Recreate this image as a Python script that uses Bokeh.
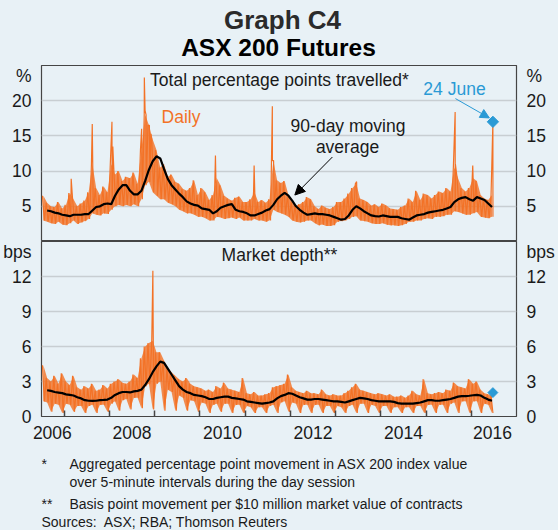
import numpy as np
import pandas as pd
from bokeh.plotting import figure
from bokeh.layouts import column
from bokeh.models import (Range1d, LinearAxis, FixedTicker, Label, Arrow,
                          NormalHead, CustomJSTickFormatter)
from bokeh.embed import file_html
from bokeh.resources import INLINE

# ---------------- data ----------------
months = pd.period_range("2006-07", "2016-06", freq="M")

# Total percentage points travelled: monthly high / low of the daily series (%)
total_hi = [6.5, 5.5, 5.0, 4.9, 5.6, 4.7,
            5.2, 6.9, 6.0, 5.0, 5.4, 5.8, 7.0, 11.0, 7.6, 6.6, 7.8, 7.0,
            11.0, 9.5, 10.0, 8.6, 9.2, 9.0, 9.8, 8.2, 13.0, 18.0, 16.5, 14.5,
            13.0, 10.5, 11.0, 9.2, 9.5, 8.5, 8.2, 7.5, 7.2, 7.6, 8.7, 6.6,
            7.6, 7.0, 5.9, 6.6, 9.0, 8.0, 6.5, 6.1, 5.8, 6.2, 6.4, 5.6,
            5.6, 6.0, 7.0, 5.6, 5.9, 5.5, 6.0, 11.5, 8.7, 8.3, 8.6, 6.6,
            5.6, 5.1, 5.3, 5.6, 6.3, 6.0, 5.0, 4.6, 5.1, 4.8, 4.6, 4.9,
            5.6, 5.6, 6.1, 6.8, 7.6, 8.2, 6.1, 5.9, 5.6, 5.1, 5.3, 4.9,
            5.4, 5.1, 4.7, 4.6, 4.5, 4.9, 5.1, 6.1, 5.6, 7.2, 5.9, 6.8,
            6.6, 6.1, 6.6, 7.1, 6.9, 7.6, 7.1, 10.5, 9.0, 7.6, 7.1, 7.6,
            9.0, 8.6, 6.6, 6.1, 5.9, 6.6]
total_lo = [3.0, 2.8, 2.6, 2.5, 2.8, 2.4,
            2.3, 2.6, 3.0, 2.5, 2.7, 2.9, 3.2, 4.0, 3.8, 3.7, 4.0, 3.9,
            4.5, 5.0, 5.2, 5.0, 5.2, 5.0, 5.3, 5.0, 6.0, 8.0, 8.5, 7.0,
            6.5, 6.0, 6.0, 5.5, 5.3, 5.0, 4.5, 4.3, 4.0, 4.0, 3.8, 3.5,
            3.5, 3.3, 3.0, 3.0, 3.5, 3.4, 3.2, 3.3, 3.4, 3.2, 3.4, 3.0,
            3.0, 3.0, 3.2, 3.0, 3.0, 2.8, 3.0, 4.5, 4.2, 4.0, 3.8, 3.5,
            3.0, 2.8, 2.7, 2.8, 3.0, 3.0, 2.6, 2.3, 2.4, 2.2, 2.2, 2.3,
            2.8, 2.9, 3.0, 3.2, 3.5, 3.6, 3.0, 2.9, 2.8, 2.6, 2.5, 2.5,
            2.6, 2.4, 2.3, 2.3, 2.2, 2.3, 2.5, 2.8, 2.8, 3.0, 3.0, 3.2,
            3.3, 3.2, 3.5, 3.5, 3.6, 3.8, 3.8, 4.3, 4.2, 4.0, 3.8, 3.8,
            4.0, 4.2, 3.5, 3.4, 3.3, 3.5]
total_ma = [np.nan, 4.4, 4.3, 4.1, 4.0, 3.8,
            3.7, 3.6, 3.8, 3.8, 3.8, 3.9, 3.9, 4.4, 4.9, 5.0, 5.3, 5.4,
            5.3, 6.5, 7.4, 8.0, 8.0, 7.2, 6.7, 6.7, 7.2, 8.6, 10.2, 11.4,
            12.1, 11.8, 10.3, 8.9, 8.0, 7.4, 6.8, 6.3, 5.7, 5.4, 5.2, 5.1,
            4.7, 4.6, 4.5, 4.0, 4.3, 4.8, 5.0, 5.2, 5.3, 4.5, 4.3, 4.2,
            4.0, 3.7, 3.7, 3.9, 4.1, 4.4, 4.6, 5.2, 6.0, 6.5, 6.9, 6.5,
            5.8, 5.0, 4.5, 4.1, 3.8, 3.9, 4.0, 3.9, 3.9, 3.8, 3.7, 3.5,
            3.3, 3.1, 3.2, 3.7, 4.5, 5.0, 4.7, 4.3, 4.0, 3.7, 3.6, 3.55,
            3.7, 3.6, 3.5, 3.5, 3.5, 3.3, 3.2, 3.1, 3.4, 3.7, 3.8, 3.9,
            4.1, 4.2, 4.3, 4.4, 4.5, 4.7, 4.9, 5.6, 6.0, 6.2, 6.3, 6.0,
            5.8, 6.3, 6.1, 5.9, 5.4, 4.9]
total_spikes = [("2007-02-27", 8.9), ("2007-08-16", 16.7), ("2008-01-22", 17.0),
                ("2008-01-29", 13.5), ("2008-09-18", 16.0), ("2008-10-10", 23.3),
                ("2008-10-16", 18.6), ("2008-10-24", 18.0), ("2008-11-20", 16.5),
                ("2008-12-02", 15.3), ("2009-01-21", 11.0), ("2010-05-07", 12.2),
                ("2011-03-15", 10.8), ("2011-08-09", 19.2), ("2011-08-19", 11.5),
                ("2013-06-20", 8.5), ("2015-08-24", 18.4), ("2015-08-26", 11.0),
                ("2016-01-13", 10.8), ("2016-06-24", 17.0)]

# Market depth: monthly high / low of the daily series (bps)
depth_hi = [4.4, 3.3, 3.0, 3.5, 2.8, 3.7,
            3.0, 2.7, 3.5, 2.5, 2.3, 2.6, 2.4, 2.8, 2.2, 2.3, 2.7, 2.4,
            2.8, 3.0, 3.2, 2.9, 2.8, 3.0, 3.6, 3.3, 5.0, 6.0, 6.3, 6.5,
            5.5, 5.5, 4.8, 4.2, 3.8, 3.5, 3.2, 3.0, 3.3, 2.8, 2.6, 2.5,
            2.4, 2.2, 2.3, 2.1, 2.6, 2.4, 2.9, 2.4, 2.3, 2.2, 2.1, 3.3,
            2.0, 1.9, 2.1, 1.8, 1.8, 1.9, 2.0, 2.5, 2.6, 2.7, 2.8, 3.6,
            2.5, 2.2, 2.1, 2.0, 2.2, 2.0, 2.0, 1.9, 2.3, 1.9, 1.8, 1.9,
            1.8, 1.8, 2.0, 2.2, 2.5, 2.8, 2.3, 2.2, 2.1, 2.0, 1.9, 2.0,
            1.9, 1.8, 1.9, 1.7, 1.7, 1.8, 1.6, 1.8, 2.2, 1.9, 1.8, 3.2,
            2.0, 1.9, 2.0, 2.1, 2.0, 2.3, 2.2, 2.9, 2.6, 2.5, 2.4, 3.2,
            2.8, 3.0, 2.3, 2.0, 1.9, 1.8]
depth_lo = [1.3, 1.2, 0.4, 1.1, 1.0, 0.3,
            1.1, 1.0, 0.4, 0.9, 0.9, 0.3, 0.9, 1.0, 0.3, 1.0, 1.0, 0.4,
            1.1, 1.3, 0.5, 1.4, 1.5, 0.6, 1.6, 1.6, 0.7, 2.6, 2.8, 0.6,
            2.8, 3.0, 0.5, 2.3, 2.1, 0.5, 1.8, 1.6, 0.5, 1.4, 1.3, 0.4,
            1.2, 1.1, 0.3, 1.0, 1.1, 0.4, 1.1, 1.1, 0.3, 1.0, 1.0, 0.3,
            0.9, 0.8, 0.3, 0.8, 0.8, 0.3, 0.9, 1.0, 0.3, 1.2, 1.3, 0.4,
            1.2, 1.1, 0.3, 1.0, 1.0, 0.3, 1.0, 1.0, 0.3, 0.9, 0.9, 0.3,
            0.9, 0.8, 0.3, 0.9, 1.0, 0.3, 1.1, 1.1, 0.3, 1.0, 0.9, 0.3,
            0.9, 0.9, 0.3, 0.8, 0.8, 0.3, 0.8, 0.8, 0.3, 0.9, 0.9, 0.3,
            1.0, 1.0, 0.3, 1.0, 1.0, 0.3, 1.1, 1.2, 0.3, 1.3, 1.3, 0.3,
            1.3, 1.3, 0.3, 1.1, 1.0, 0.3]
depth_ma = [np.nan, 2.25, 2.2, 2.1, 2.05, 2.0,
            1.9, 1.85, 1.8, 1.65, 1.55, 1.4, 1.35, 1.34, 1.35, 1.4, 1.42, 1.45,
            1.6, 1.85, 2.0, 2.1, 2.1, 2.06, 2.15, 2.2, 2.3, 2.7, 3.2, 3.8,
            4.3, 4.7, 4.6, 4.1, 3.6, 3.1, 2.6, 2.3, 2.1, 2.0, 1.85, 1.8,
            1.75, 1.65, 1.5, 1.5, 1.6, 1.65, 1.7, 1.7, 1.6, 1.55, 1.5, 1.45,
            1.3, 1.25, 1.2, 1.15, 1.1, 1.15, 1.2, 1.3, 1.55, 1.75, 1.85, 2.0,
            1.95, 1.8, 1.65, 1.55, 1.45, 1.45, 1.5, 1.5, 1.45, 1.4, 1.35, 1.3,
            1.3, 1.25, 1.2, 1.3, 1.4, 1.5, 1.6, 1.55, 1.5, 1.4, 1.35, 1.3,
            1.3, 1.3, 1.3, 1.25, 1.15, 1.1, 1.1, 1.1, 1.1, 1.15, 1.2, 1.3,
            1.4, 1.4, 1.35, 1.35, 1.4, 1.45, 1.5, 1.6, 1.7, 1.75, 1.75, 1.78,
            1.82, 1.86, 1.8, 1.6, 1.45, 1.35]
depth_spikes = [("2008-12-18", 12.5)]

june24 = "2016-06-24"
june24_total = 17.0
june24_depth = 2.05

year_bounds = list(range(2007, 2017))
year_label_pos = [2006.74, 2008.5, 2010.5, 2012.5, 2014.5, 2016.47]
total_ticks = [5, 10, 15, 20]
depth_ticks = [0, 3, 6, 9, 12]
UNIT_POS_TOTAL = 23.6   # where the "%" unit sits on the axis
UNIT_POS_DEPTH = 14.37  # where the "bps" unit sits on the axis

# ---------------- helpers ----------------
def decimal_year(s):
    d = pd.Timestamp(s)
    a = pd.Timestamp(d.year, 1, 1)
    b = pd.Timestamp(d.year + 1, 1, 1)
    return d.year + (d - a) / (b - a)

mx = np.array([p.year + (p.month - 1) / 12 for p in months])

def daily(hi, lo, spikes):
    xs = np.concatenate([mx + 0.25 / 12, mx + 0.75 / 12,
                         [decimal_year(d) for d, _ in spikes]])
    ys = np.concatenate([hi, lo, [v for _, v in spikes]])
    order = np.argsort(xs, kind="stable")
    return xs[order], ys[order]

BG = "#E8F1F6"
ORANGE = "#F37226"
BLUE = "#2A9AD5"
TXT = "#1a1a1a"
GRID = "#C8CED2"
OUTLINE = "#454545"
FONT = "Liberation Sans"
L_BORDER, R_BORDER, FRAME_W = 41, 42, 475

def base_fig(y0, y1, fh, bot_b, xloc):
    p = figure(frame_width=FRAME_W, frame_height=fh,
               x_range=Range1d(2006.5, 2017.0), y_range=Range1d(y0, y1),
               min_border_left=L_BORDER, min_border_right=R_BORDER,
               min_border_top=0, min_border_bottom=bot_b,
               x_axis_location=xloc, y_axis_location="left",
               output_backend="svg", toolbar_location=None)
    p.background_fill_color = BG
    p.border_fill_color = BG
    p.outline_line_color = OUTLINE
    p.outline_line_width = 1.2
    p.xgrid.visible = False
    p.ygrid.grid_line_color = GRID
    p.ygrid.grid_line_width = 1.3
    return p

def text_fig(h):
    p = figure(frame_width=FRAME_W, frame_height=h, x_range=Range1d(0, 1), y_range=Range1d(0, 1),
               min_border_left=L_BORDER, min_border_right=R_BORDER,
               min_border_top=0, min_border_bottom=0,
               x_axis_location=None, y_axis_location=None,
               output_backend="svg", toolbar_location=None)
    p.background_fill_color = BG
    p.border_fill_color = BG
    p.outline_line_color = None
    p.xgrid.grid_line_color = None
    p.ygrid.grid_line_color = None
    return p

def style_y(ax, ticks, unit_pos, unit):
    ax.ticker = FixedTicker(ticks=ticks + [unit_pos])
    ax.formatter = CustomJSTickFormatter(
        args=dict(u=unit, lim=unit_pos - 0.5),
        code="return tick > lim ? u : tick.toFixed(0);")
    ax.major_tick_line_color = None
    ax.minor_tick_line_color = None
    ax.axis_line_color = None
    ax.major_label_text_font = FONT
    ax.major_label_text_font_size = "17.5px"
    ax.major_label_text_color = TXT
    ax.major_label_standoff = 4

def lab(p, x, y, text, size="17.5px", color=TXT, align="center", style="normal"):
    # x given in page pixels; converted to frame-relative screen units
    p.add_layout(Label(x=x - L_BORDER, y=y, x_units="screen", y_units="screen", text=text,
                       text_align=align, text_baseline="middle",
                       text_font=FONT, text_font_size=size,
                       text_color=color, text_font_style=style))

# ---------------- header ----------------
head = text_fig(65)
lab(head, 282, 46, "Graph C4", size="26px", color="#2b2b2b", style="bold")
lab(head, 278, 18, "ASX 200 Futures", size="24.5px", color="black", style="bold")

# ---------------- top panel ----------------
top = base_fig(0, 25, 176, 0, None)
style_y(top.yaxis[0], total_ticks, UNIT_POS_TOTAL, "%")
ra = LinearAxis()
style_y(ra, total_ticks, UNIT_POS_TOTAL, "%")
top.add_layout(ra, "right")
top.ygrid.ticker = FixedTicker(ticks=[5, 10, 15, 20])

top.varea(x=mx + 0.5 / 12, y1=total_lo, y2=total_hi, fill_color=ORANGE, fill_alpha=0.8)
tx, ty = daily(total_hi, total_lo, total_spikes)
top.line(tx, ty, line_color=ORANGE, line_width=1.2)
top.line(mx + 0.5 / 12, total_ma, line_color="black", line_width=2.2)
top.scatter([decimal_year(june24)], [june24_total], marker="square", size=8,
            angle=np.pi / 4, fill_color=BLUE, line_color=BLUE)

top.add_layout(Arrow(end=NormalHead(size=9, fill_color=BLUE, line_color=BLUE),
                     x_start=2015.65, y_start=20.3, x_end=2016.40, y_end=17.55,
                     line_color=BLUE, line_width=1))
top.add_layout(Arrow(end=NormalHead(size=10, fill_color="black", line_color="black"),
                     x_start=2012.93, y_start=12.0, x_end=2012.10, y_end=6.6,
                     line_color="black", line_width=1))

lab(top, 279, 162, "Total percentage points travelled*")
lab(top, 180.5, 124.3, "Daily", color=ORANGE)
lab(top, 347.5, 116, "90-day moving")
lab(top, 347, 95, "average")
lab(top, 454, 153, "24 June", color=BLUE)

# ---------------- bottom panel ----------------
bot = base_fig(0, 15, 175, 30, "below")
style_y(bot.yaxis[0], depth_ticks, UNIT_POS_DEPTH, "bps")
rb = LinearAxis()
style_y(rb, depth_ticks, UNIT_POS_DEPTH, "bps")
bot.add_layout(rb, "right")
bot.ygrid.ticker = FixedTicker(ticks=[3, 6, 9, 12])

xa = bot.xaxis[0]
xa.ticker = FixedTicker(ticks=year_label_pos, minor_ticks=year_bounds)
xa.formatter = CustomJSTickFormatter(code="return Math.floor(tick).toFixed(0);")
xa.major_tick_line_color = None
xa.major_tick_in = 0
xa.major_tick_out = 0
xa.minor_tick_in = 6
xa.minor_tick_out = 0
xa.minor_tick_line_color = OUTLINE
xa.minor_tick_line_width = 1.5
xa.axis_line_color = None
xa.major_label_text_font = FONT
xa.major_label_text_font_size = "17.5px"
xa.major_label_text_color = TXT
xa.major_label_standoff = 9

bot.varea(x=mx + 0.5 / 12, y1=depth_lo, y2=depth_hi, fill_color=ORANGE, fill_alpha=0.8)
dx, dy = daily(depth_hi, depth_lo, depth_spikes)
bot.line(dx, dy, line_color=ORANGE, line_width=1.2)
bot.line(mx + 0.5 / 12, depth_ma, line_color="black", line_width=2.2)
bot.scatter([decimal_year(june24)], [june24_depth], marker="square", size=7,
            angle=np.pi / 4, fill_color=BLUE, line_color=BLUE)

lab(bot, 279, 162, "Market depth**")

# ---------------- footer ----------------
foot = text_fig(84)
lab(foot, 41, 67, "*", size="14px", align="left")
lab(foot, 69, 67, "Aggregated percentage point movement in ASX 200 index value", size="14px", align="left")
lab(foot, 69, 49, "over 5-minute intervals during the day session", size="14px", align="left")
lab(foot, 41, 27, "**", size="14px", align="left")
lab(foot, 69, 27, "Basis point movement per $10 million market value of contracts", size="14px", align="left")
lab(foot, 41, 9, "Sources:\u00a0 ASX; RBA; Thomson Reuters", size="14px", align="left")

layout = column(head, top, bot, foot, spacing=0)
html = file_html(layout, INLINE, title="Graph C4")
html = html.replace("<head>", "<head><style>html,body{margin:0;padding:0;background:%s;overflow:hidden;}</style>" % BG, 1)
open("out.html", "w").write(html)
